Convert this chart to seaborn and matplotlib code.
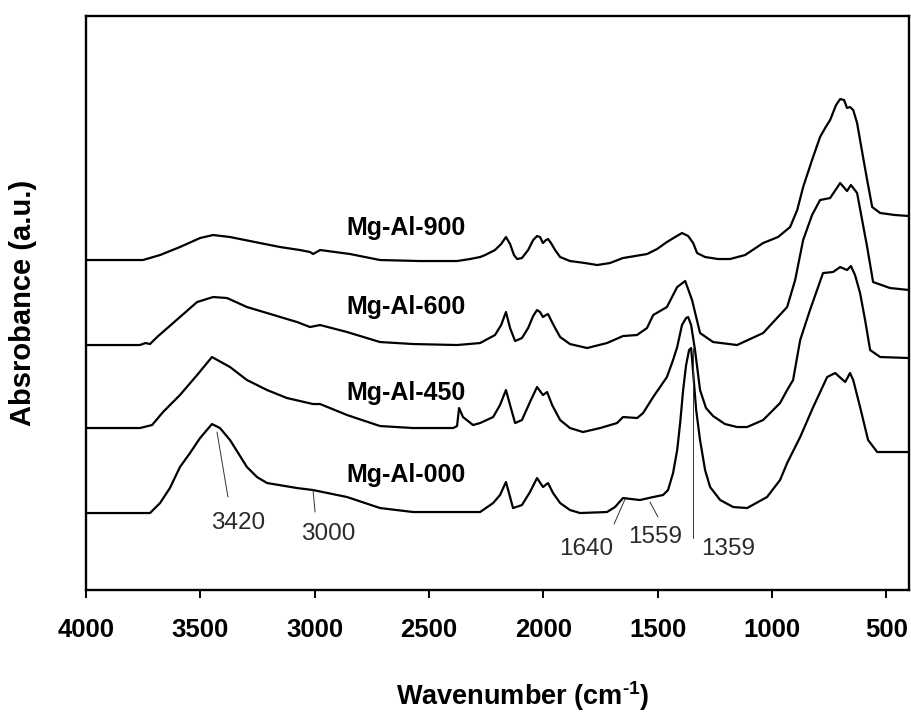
import numpy as np
import pandas as pd
import matplotlib
matplotlib.use("Agg")
import matplotlib.pyplot as plt
import seaborn as sns

# FTIR spectra of the Mg-Al samples, stacked vertically (absorbance in a.u.)
wn_900 = [3996, 3895, 3751, 3676, 3589, 3501, 3444, 3370, 3239, 3151, 3064, 3020,
          3007, 2976, 2845, 2714, 2539, 2377, 2320, 2276, 2254, 2211, 2184, 2163,
          2145, 2128, 2114, 2093, 2066, 2044, 2027, 2014, 2001, 1988, 1979, 1966,
          1948, 1926, 1883, 1817, 1764, 1708, 1651, 1598, 1546, 1502, 1459, 1423,
          1393, 1366, 1344, 1327, 1292, 1235, 1183, 1117, 1038, 973, 920, 889,
          863, 824, 789, 767, 745, 719, 701, 684, 671, 658, 644, 627, 614, 601,
          583, 561, 526, 461, 399]
ab_900 = [3.30, 3.30, 3.30, 3.35, 3.43, 3.52, 3.55, 3.53, 3.47, 3.43, 3.40, 3.38,
          3.36, 3.40, 3.36, 3.30, 3.29, 3.29, 3.31, 3.33, 3.35, 3.40, 3.46, 3.53,
          3.46, 3.35, 3.31, 3.32, 3.40, 3.50, 3.54, 3.53, 3.47, 3.50, 3.51, 3.47,
          3.40, 3.33, 3.29, 3.27, 3.25, 3.27, 3.32, 3.34, 3.36, 3.41, 3.48, 3.53,
          3.57, 3.54, 3.47, 3.37, 3.33, 3.31, 3.31, 3.35, 3.47, 3.53, 3.63, 3.80,
          4.03, 4.30, 4.53, 4.62, 4.70, 4.85, 4.91, 4.90, 4.82, 4.83, 4.80, 4.67,
          4.50, 4.33, 4.10, 3.83, 3.77, 3.75, 3.74]

wn_600 = [3996, 3850, 3764, 3740, 3720, 3689, 3589, 3514, 3444, 3383, 3296, 3208,
          3077, 3020, 2976, 2858, 2714, 2569, 2377, 2276, 2211, 2184, 2163, 2145,
          2123, 2093, 2066, 2044, 2027, 2014, 2001, 1988, 1979, 1966, 1948, 1926,
          1883, 1808, 1721, 1651, 1590, 1546, 1519, 1459, 1414, 1379, 1349, 1314,
          1257, 1152, 1038, 933, 898, 863, 824, 789, 745, 701, 671, 654, 627,
          605, 583, 557, 483, 399]
ab_600 = [2.45, 2.45, 2.45, 2.47, 2.46, 2.53, 2.73, 2.88, 2.93, 2.92, 2.83, 2.77,
          2.68, 2.63, 2.65, 2.58, 2.48, 2.46, 2.45, 2.47, 2.55, 2.65, 2.78, 2.62,
          2.49, 2.52, 2.62, 2.74, 2.80, 2.78, 2.73, 2.75, 2.76, 2.70, 2.62, 2.53,
          2.46, 2.42, 2.47, 2.54, 2.55, 2.62, 2.75, 2.83, 3.03, 3.09, 2.90, 2.57,
          2.48, 2.45, 2.57, 2.83, 3.10, 3.50, 3.75, 3.90, 3.92, 4.07, 3.99, 4.05,
          3.97, 3.70, 3.43, 3.08, 3.02, 3.00]

wn_450 = [3996, 3764, 3711, 3663, 3589, 3514, 3449, 3370, 3296, 3208, 3121, 3007,
          2976, 2858, 2714, 2569, 2394, 2377, 2368, 2351, 2307, 2276, 2219, 2189,
          2163, 2145, 2123, 2093, 2058, 2027, 2001, 1983, 1961, 1926, 1883, 1826,
          1751, 1677, 1651, 1589, 1563, 1519, 1459, 1432, 1414, 1393, 1375, 1366,
          1353, 1336, 1314, 1288, 1257, 1205, 1152, 1108, 1038, 964, 933, 907,
          876, 833, 776, 732, 701, 671, 654, 636, 614, 592, 570, 526, 399]
ab_450 = [1.62, 1.62, 1.65, 1.78, 1.95, 2.15, 2.33, 2.23, 2.10, 2.00, 1.92, 1.86,
          1.86, 1.75, 1.64, 1.62, 1.62, 1.64, 1.82, 1.73, 1.65, 1.67, 1.73, 1.85,
          2.00, 1.85, 1.67, 1.70, 1.88, 2.03, 1.95, 1.98, 1.85, 1.70, 1.62, 1.58,
          1.62, 1.67, 1.73, 1.72, 1.77, 1.93, 2.13, 2.30, 2.43, 2.65, 2.72, 2.73,
          2.65, 2.40, 2.00, 1.82, 1.74, 1.66, 1.63, 1.63, 1.70, 1.87, 2.00, 2.10,
          2.50, 2.80, 3.17, 3.18, 3.23, 3.20, 3.24, 3.15, 2.97, 2.70, 2.40, 2.33,
          2.32]

wn_000 = [3996, 3720, 3676, 3633, 3589, 3545, 3501, 3449, 3414, 3370, 3296, 3252,
          3208, 3077, 3007, 2858, 2714, 2569, 2351, 2276, 2219, 2189, 2163, 2145,
          2132, 2093, 2058, 2027, 2001, 1979, 1957, 1926, 1883, 1839, 1721, 1686,
          1651, 1577, 1519, 1476, 1454, 1432, 1414, 1401, 1388, 1375, 1362, 1353,
          1344, 1331, 1314, 1292, 1270, 1226, 1169, 1108, 1021, 964, 933, 876,
          819, 758, 723, 679, 658, 644, 614, 579, 539, 399]
ab_000 = [0.77, 0.77, 0.87, 1.02, 1.23, 1.37, 1.52, 1.66, 1.62, 1.50, 1.23, 1.13,
          1.07, 1.02, 1.00, 0.93, 0.82, 0.78, 0.78, 0.78, 0.87, 0.95, 1.08, 0.93,
          0.82, 0.85, 0.98, 1.12, 1.03, 1.07, 0.97, 0.87, 0.80, 0.77, 0.78, 0.83,
          0.92, 0.90, 0.93, 0.95, 1.00, 1.17, 1.40, 1.67, 2.00, 2.25, 2.40, 2.42,
          2.17, 1.80, 1.50, 1.20, 1.03, 0.90, 0.83, 0.82, 0.93, 1.10, 1.27, 1.53,
          1.83, 2.13, 2.17, 2.08, 2.17, 2.10, 1.83, 1.50, 1.38, 1.38]

samples = ["Mg-Al-900", "Mg-Al-600", "Mg-Al-450", "Mg-Al-000"]
label_y = [3.55, 2.76, 1.90, 1.08]

# band assignments on the Mg-Al-000 spectrum: (label, line start, line end, text pos)
band_labels = ["3420", "3000", "1640", "1559", "1359"]
band_line_start = [(3427, 1.58), (3007, 1.00), (1642, 0.91), (1533, 0.88), (1344, 2.42)]
band_line_end = [(3379, 0.93), (2998, 0.78), (1690, 0.66), (1498, 0.73), (1344, 0.52)]
band_text_pos = [(3335, 0.61), (2941, 0.50), (1812, 0.35), (1511, 0.47), (1191, 0.35)]

x_ticks = [4000, 3500, 3000, 2500, 2000, 1500, 1000, 500]

frames = []
for name, wn, ab in zip(samples, [wn_900, wn_600, wn_450, wn_000],
                        [ab_900, ab_600, ab_450, ab_000]):
    frames.append(pd.DataFrame({"wavenumber": wn, "absorbance": ab, "sample": name}))
df = pd.concat(frames, ignore_index=True)

sns.set_theme(style="ticks")
plt.rcParams["font.family"] = ["Liberation Sans", "DejaVu Sans"]
plt.rcParams["text.color"] = "black"
plt.rcParams["axes.labelcolor"] = "black"
plt.rcParams["mathtext.fontset"] = "custom"
plt.rcParams["mathtext.rm"] = "Liberation Sans:bold"
plt.rcParams["mathtext.bf"] = "Liberation Sans:bold"

fig = plt.figure(figsize=(9.11, 7.12), dpi=100)
ax = fig.add_axes([0.0944, 0.1713, 0.9034, 0.8062])

sns.lineplot(data=df, x="wavenumber", y="absorbance", hue="sample",
             palette={s: "black" for s in samples}, estimator=None, sort=False,
             linewidth=1.6, legend=False, ax=ax)

for name, yb in zip(samples, label_y):
    ax.text(2600, yb, name, ha="center", va="baseline", fontsize=18,
            fontweight="bold", color="black")

for lab, p0, p1, pt in zip(band_labels, band_line_start, band_line_end, band_text_pos):
    ax.plot([p0[0], p1[0]], [p0[1], p1[1]], color="#333333", linewidth=0.7)
    ax.text(pt[0], pt[1], lab, ha="center", va="baseline", fontsize=17.5,
            color="#2a2a2a")

ax.set_xlim(4000, 400)
ax.set_ylim(0, 5.74)
ax.set_xticks(x_ticks)
ax.set_xticklabels([str(t) for t in x_ticks], fontsize=18.5, fontweight="bold")
ax.set_yticks([])
ax.tick_params(axis="x", direction="out", length=6, width=1.4, pad=14, colors="black")

for sp in ax.spines.values():
    sp.set_linewidth(1.7)
    sp.set_color("black")

ax.set_xlabel(r"Wavenumber (cm$^{\text{-1}}$)", fontsize=19.5, fontweight="bold")
ax.xaxis.set_label_coords(0.531, -0.155)
ax.set_ylabel("Absrobance (a.u.)", fontsize=21, fontweight="bold")
ax.yaxis.set_label_coords(-0.06, 0.5)

fig.savefig("out.png", dpi=100, facecolor="white")
